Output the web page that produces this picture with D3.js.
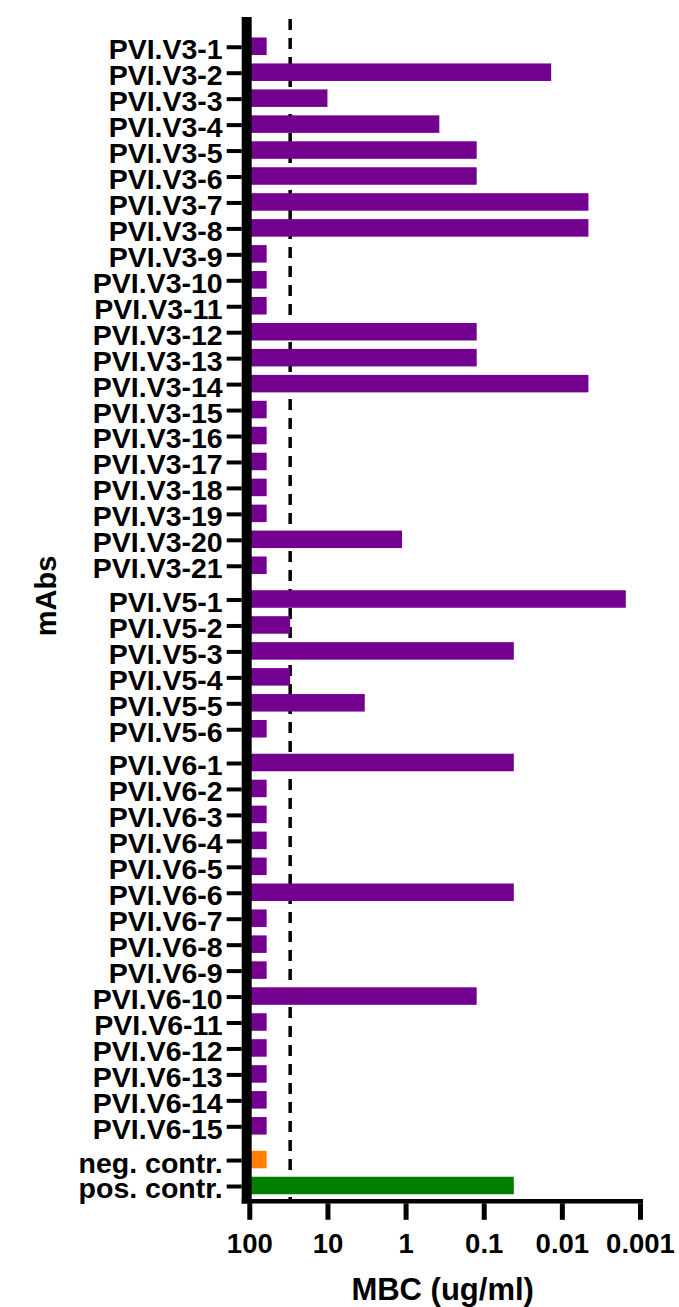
<!DOCTYPE html>
<html>
<head>
<meta charset="utf-8">
<script src="https://cdn.jsdelivr.net/npm/d3@7"></script>
<style>
  body { margin: 0; background: #fff; }
  svg { display: block; }
  text { font-family: "Liberation Sans", Arial, Helvetica, sans-serif; font-weight: bold; fill: #000; }
</style>
</head>
<body>
<svg id="chart" width="679" height="1307"></svg>
<script>
// Minimal bactericidal concentration (ug/ml) per antibody, 3-fold dilutions from 30 ug/ml.
// Bars at 60 mark antibodies with no activity at the highest concentration tested.
const v3Labels = ["PVI.V3-1","PVI.V3-2","PVI.V3-3","PVI.V3-4","PVI.V3-5","PVI.V3-6","PVI.V3-7",
  "PVI.V3-8","PVI.V3-9","PVI.V3-10","PVI.V3-11","PVI.V3-12","PVI.V3-13","PVI.V3-14",
  "PVI.V3-15","PVI.V3-16","PVI.V3-17","PVI.V3-18","PVI.V3-19","PVI.V3-20","PVI.V3-21"];
const v3Values = [60, 0.0137, 10, 0.37, 0.123, 0.123, 0.00457,
  0.00457, 60, 60, 60, 0.123, 0.123, 0.00457,
  60, 60, 60, 60, 60, 1.11, 60];

const v5Labels = ["PVI.V5-1","PVI.V5-2","PVI.V5-3","PVI.V5-4","PVI.V5-5","PVI.V5-6"];
const v5Values = [0.00152, 30, 0.0412, 30, 3.33, 60];

const v6Labels = ["PVI.V6-1","PVI.V6-2","PVI.V6-3","PVI.V6-4","PVI.V6-5","PVI.V6-6","PVI.V6-7",
  "PVI.V6-8","PVI.V6-9","PVI.V6-10","PVI.V6-11","PVI.V6-12","PVI.V6-13","PVI.V6-14","PVI.V6-15"];
const v6Values = [0.0412, 60, 60, 60, 60, 0.0412, 60,
  60, 60, 0.123, 60, 60, 60, 60, 60];

const controlLabels = ["neg. contr.", "pos. contr."];
const controlValues = [60, 0.0412];

const xTickValues = [100, 10, 1, 0.1, 0.01, 0.001];
const xTickLabels = ["100", "10", "1", "0.1", "0.01", "0.001"];
const cutoffValue = 30;

const purple = "#73008f";
const controlColors = ["#ff8000", "#008000"];

// Assemble rows, leaving a small gap between antibody panels
const groups = [
  { labels: v3Labels, values: v3Values, colors: v3Labels.map(() => purple) },
  { labels: v5Labels, values: v5Values, colors: v5Labels.map(() => purple) },
  { labels: v6Labels, values: v6Values, colors: v6Labels.map(() => purple) },
  { labels: controlLabels, values: controlValues, colors: controlColors }
];
const groupGap = 0.3;
const rows = [];
groups.forEach((g, gi) => {
  g.labels.forEach((label, j) => {
    rows.push({ label, value: g.values[j], color: g.colors[j], slot: rows.length + gi * groupGap });
  });
});

const svg = d3.select("#chart");

const x = d3.scaleLog().domain([100, 0.001]).range([249.3, 640]);
const y = d3.scaleLinear()
  .domain([0, rows[rows.length - 1].slot])
  .range([46.75, 1186]);
const step = y(1) - y(0);
const barH = step * 0.675;

const axisTop = 17;
const xAxisY = 1201.3;

// Cutoff (highest tested concentration), drawn behind the bars
svg.append("line")
  .attr("x1", x(cutoffValue)).attr("x2", x(cutoffValue))
  .attr("y1", axisTop + 2).attr("y2", xAxisY)
  .attr("stroke", "#000")
  .attr("stroke-width", 3.5)
  .attr("stroke-dasharray", "11,8");

// Bars
svg.append("g").selectAll("rect")
  .data(rows)
  .join("rect")
  .attr("x", x(100))
  .attr("y", d => y(d.slot) - barH / 2 - 0.5)
  .attr("width", d => x(d.value) - x(100))
  .attr("height", barH)
  .attr("fill", d => d.color);

// Y axis with category labels
const labelBySlot = new Map(rows.map(r => [r.slot, r.label]));
const yAxis = svg.append("g")
  .attr("transform", "translate(241.7,0)")
  .call(d3.axisLeft(y)
    .tickValues(rows.map(r => r.slot))
    .tickFormat(s => labelBySlot.get(s))
    .tickSize(15)
    .tickPadding(4));
yAxis.select(".domain").remove();
yAxis.selectAll(".tick line").attr("stroke", "#000").attr("stroke-width", 4);
yAxis.selectAll(".tick text")
  .attr("font-size", 28.5)
  .attr("dy", "0.42em")
  .style("font-family", "'Liberation Sans', Arial, sans-serif")
  .style("font-weight", "bold");

// Thick vertical axis line
svg.append("line")
  .attr("x1", 246.7).attr("x2", 246.7)
  .attr("y1", axisTop).attr("y2", xAxisY + 2.2)
  .attr("stroke", "#000")
  .attr("stroke-width", 10);

// X axis
const xAxis = svg.append("g")
  .attr("transform", `translate(0,${xAxisY + 2})`)
  .call(d3.axisBottom(x)
    .tickValues(xTickValues)
    .tickFormat((d, i) => xTickLabels[i])
    .tickSize(16.5)
    .tickPadding(14));
xAxis.select(".domain").remove();
xAxis.selectAll(".tick line").attr("stroke", "#000").attr("stroke-width", 5);
xAxis.selectAll(".tick text")
  .attr("font-size", 27.5)
  .style("font-family", "'Liberation Sans', Arial, sans-serif")
  .style("font-weight", "bold");

svg.append("line")
  .attr("x1", 241.7).attr("x2", 643)
  .attr("y1", xAxisY).attr("y2", xAxisY)
  .attr("stroke", "#000")
  .attr("stroke-width", 4.5);

// Axis titles
svg.append("text")
  .attr("x", (x(100) + x(0.001)) / 2 - 2)
  .attr("y", 1300)
  .attr("text-anchor", "middle")
  .attr("font-size", 31)
  .text("MBC (ug/ml)");

svg.append("text")
  .attr("transform", "translate(56,596) rotate(-90)")
  .attr("text-anchor", "middle")
  .attr("font-size", 29)
  .text("mAbs");
</script>
</body>
</html>
